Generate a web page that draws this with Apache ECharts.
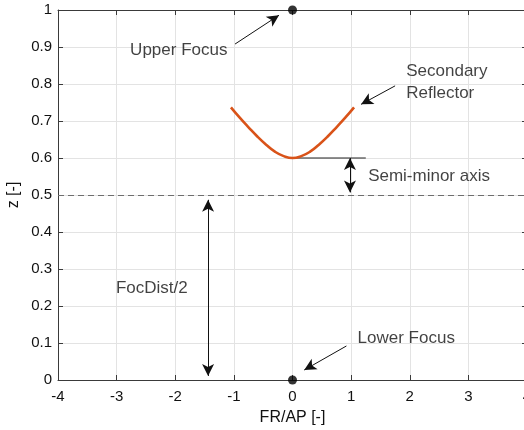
<!DOCTYPE html>
<html>
<head>
<meta charset="utf-8">
<script src="https://cdn.jsdelivr.net/npm/echarts@6/dist/echarts.min.js"></script>
<style>html,body{margin:0;padding:0;background:#fff}#c{width:524px;height:430px}</style>
</head>
<body>
<div id="c"></div>
<script>
// ---- data ----
const reflectorX = [-1.05,-0.9,-0.75,-0.6,-0.45,-0.3,-0.15,0,0.15,0.3,0.45,0.6,0.75,0.9,1.05];
const reflectorZ = [0.737,0.709,0.683,0.658,0.636,0.617,0.605,0.600,0.605,0.617,0.636,0.658,0.683,0.709,0.737];
const fociX = [0, 0];
const fociZ = [1, 0];
const semiMinorLine = [[0, 0.6], [1.25, 0.6]];
const centerZ = 0.5;
// single-headed arrows: [from, to]
const arrows = [
  [[-0.98, 0.908], [-0.23, 0.986]],
  [[1.75, 0.795], [1.17, 0.745]],
  [[0.92, 0.092], [0.2, 0.027]]
];
// double-headed arrows
const dblArrows = [
  [[0.98, 0.6], [0.98, 0.507]],
  [[-1.44, 0.487], [-1.44, 0.011]]
];
const labelTexts = ['Upper Focus', 'Secondary\nReflector', 'Semi-minor axis', 'FocDist/2', 'Lower Focus'];
const labelPos = [[-1.94, 0.89], [1.94, 0.804], [1.29, 0.551], [-2.4, 0.248], [1.94, 0.113]];
const labelAlign = ['center', 'left', 'left', 'center', 'center'];
const xMin = -4, xMax = 4, xStep = 1;
const zMin = 0, zMax = 1, zStep = 0.1;

const FONT = 'Liberation Sans';
const TXT = '#111';
const AX = '#3a3a3a';

const chart = echarts.init(document.getElementById('c'), null, {renderer: 'canvas'});

const baseX = {
  type: 'value', min: xMin, max: xMax, interval: xStep,
  axisLine: {show: true, onZero: false, lineStyle: {color: AX, width: 1}},
  axisTick: {show: true, inside: true, length: 5, lineStyle: {color: AX}},
};
const baseY = {
  type: 'value', min: zMin, max: zMax, interval: zStep,
  axisLine: {show: true, onZero: false, lineStyle: {color: AX, width: 1}},
  axisTick: {show: true, inside: true, length: 5, lineStyle: {color: AX}},
};

chart.setOption({
  animation: false,
  textStyle: {fontFamily: FONT},
  grid: {left: 58, top: 10, right: -3, bottom: 50, containLabel: false, outerBoundsMode: 'none'},
  xAxis: [
    Object.assign({}, baseX, {
      position: 'bottom',
      name: 'FR/AP [-]', nameLocation: 'middle', nameGap: 30, nameMoveOverlap: false,
      nameTextStyle: {color: TXT, fontSize: 16, fontFamily: FONT},
      axisLabel: {color: TXT, fontSize: 15, fontFamily: FONT, margin: 9},
      splitLine: {show: true, lineStyle: {color: '#e3e3e3', width: 1}}
    }),
    Object.assign({}, baseX, {
      position: 'top', axisLabel: {show: false}, splitLine: {show: false}
    })
  ],
  yAxis: [
    Object.assign({}, baseY, {
      position: 'left',
      name: 'z [-]', nameLocation: 'middle', nameGap: 36, nameRotate: 90, nameMoveOverlap: false,
      nameTextStyle: {color: TXT, fontSize: 16, fontFamily: FONT},
      axisLabel: {color: TXT, fontSize: 15, fontFamily: FONT, margin: 6},
      splitLine: {show: true, lineStyle: {color: '#e3e3e3', width: 1}}
    }),
    Object.assign({}, baseY, {
      position: 'right', axisLabel: {show: false}, splitLine: {show: false}
    })
  ],
  series: [
    {
      type: 'line', name: 'center', data: [], silent: true,
      markLine: {
        silent: true, symbol: 'none', label: {show: false},
        lineStyle: {color: '#6e6e6e', type: [6, 4], width: 1.2},
        data: [{yAxis: centerZ}]
      }
    },
    {
      type: 'line', name: 'semi', data: semiMinorLine, symbol: 'none', silent: true,
      lineStyle: {color: '#222', width: 1}, z: 3
    },
    {
      type: 'line', name: 'reflector', smooth: true, symbol: 'none',
      data: reflectorX.map((x, i) => [x, reflectorZ[i]]),
      lineStyle: {color: '#D95319', width: 2.6}, z: 4
    },
    {
      type: 'scatter', name: 'foci', symbolSize: 9, clip: false,
      itemStyle: {color: '#000'},
      data: fociX.map((x, i) => [x, fociZ[i]]), z: 6
    },
    {
      type: 'line', name: 'arrows', data: [], silent: true,
      markLine: {
        silent: true, label: {show: false}, animation: false,
        symbol: ['none', 'arrow'], symbolSize: [9, 12],
        lineStyle: {color: '#111', width: 1, type: 'solid'},
        data: arrows.map(a => [{coord: a[0]}, {coord: a[1]}])
      }
    },
    {
      type: 'line', name: 'dblarrows', data: [], silent: true,
      markLine: {
        silent: true, label: {show: false}, animation: false,
        symbol: ['arrow', 'arrow'], symbolSize: [9, 12],
        lineStyle: {color: '#111', width: 1, type: 'solid'},
        data: dblArrows.map(a => [{coord: a[0]}, {coord: a[1]}])
      }
    },
    {
      type: 'scatter', name: 'labels', symbolSize: 0, silent: true, clip: false,
      data: labelTexts.map((t, i) => ({
        value: labelPos[i], name: t,
        label: {align: labelAlign[i]}
      })),
      label: {
        show: true, position: 'inside', formatter: p => p.name,
        color: TXT, fontSize: 17, fontFamily: FONT, lineHeight: 22,
        verticalAlign: 'middle', textBorderWidth: 0
      }, z: 7
    }
  ]
});
</script>
</body>
</html>
